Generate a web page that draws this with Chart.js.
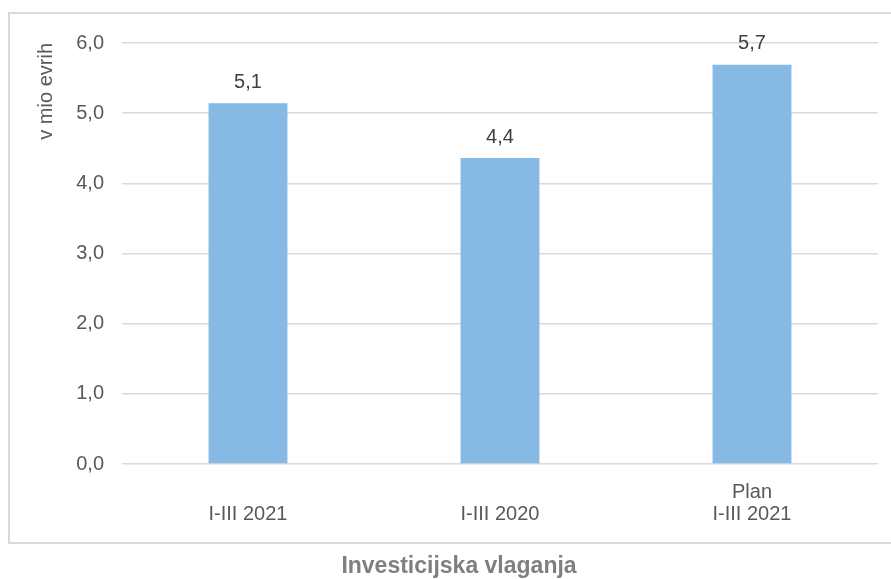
<!DOCTYPE html>
<html>
<head>
<meta charset="utf-8">
<script src="https://cdn.jsdelivr.net/npm/chart.js@4"></script>
<style>
  html, body { margin: 0; padding: 0; background: #fff; }
  #wrap { width: 891px; height: 579px; }
</style>
</head>
<body>
<div id="wrap"><canvas id="chart"></canvas></div>
<script>
// data
const categories = [["", "I-III 2021"], ["", "I-III 2020"], ["Plan", "I-III 2021"]];
const values = [5.14, 4.36, 5.69];
const valueLabels = ["5,1", "4,4", "5,7"];
const yTicks = [0, 1, 2, 3, 4, 5, 6];
const chartTitle = "Investicijska vlaganja";

const FONT = "'Liberation Sans', Arial, sans-serif";
Chart.defaults.font.family = FONT;
Chart.defaults.color = "#595959";

// frame around the plot + title underneath
const frame = {
  id: "frame",
  beforeDraw(chart) {
    const ctx = chart.ctx;
    ctx.save();
    ctx.strokeStyle = "#d9d9d9";
    ctx.lineWidth = 2;
    ctx.strokeRect(9, 13, 900, 530);
    ctx.font = "bold 23px " + FONT;
    ctx.fillStyle = "#7f7f7f";
    ctx.textAlign = "center";
    ctx.textBaseline = "middle";
    ctx.fillText(chartTitle, 459, 567);
    ctx.restore();
  }
};

// value labels above bars
const barLabels = {
  id: "barLabels",
  afterDatasetsDraw(chart) {
    const ctx = chart.ctx;
    const meta = chart.getDatasetMeta(0);
    ctx.save();
    ctx.font = "20px " + FONT;
    ctx.fillStyle = "#404040";
    ctx.textAlign = "center";
    ctx.textBaseline = "middle";
    meta.data.forEach((bar, i) => {
      ctx.fillText(valueLabels[i], bar.x, bar.y - 21);
    });
    ctx.restore();
  }
};

new Chart(document.getElementById("chart"), {
  type: "bar",
  data: {
    labels: categories,
    datasets: [{
      data: values,
      backgroundColor: "#86b9e4",
      borderWidth: 0,
      barPercentage: 0.313,
      categoryPercentage: 1
    }]
  },
  options: {
    responsive: true,
    maintainAspectRatio: false,
    animation: false,
    events: [],
    layout: { padding: { left: 9, top: 43, right: 13, bottom: 22 } },
    plugins: {
      legend: { display: false },
      tooltip: { enabled: false }
    },
    scales: {
      x: {
        grid: { display: false, drawTicks: false },
        border: { display: false },
        ticks: {
          color: "#595959",
          font: { size: 20, lineHeight: 1.1 },
          padding: 17,
          maxRotation: 0,
          autoSkip: false
        },
        afterFit(scale) { scale.height = 93; }
      },
      y: {
        min: 0,
        max: 6,
        afterBuildTicks(scale) {
          scale.ticks = yTicks.map(v => ({ value: v }));
        },
        grid: { color: "#d9d9d9", lineWidth: 1.5, drawTicks: false },
        border: { display: false },
        ticks: {
          color: "#595959",
          font: { size: 20 },
          padding: 18,
          callback: v => v.toFixed(1).replace(".", ",")
        },
        title: {
          display: true,
          text: "v mio evrih",
          align: "end",
          color: "#595959",
          font: { size: 20 },
          padding: { top: 25, bottom: 0 }
        },
        afterFit(scale) { scale.width = 113; }
      }
    }
  },
  plugins: [frame, barLabels]
});
</script>
</body>
</html>
